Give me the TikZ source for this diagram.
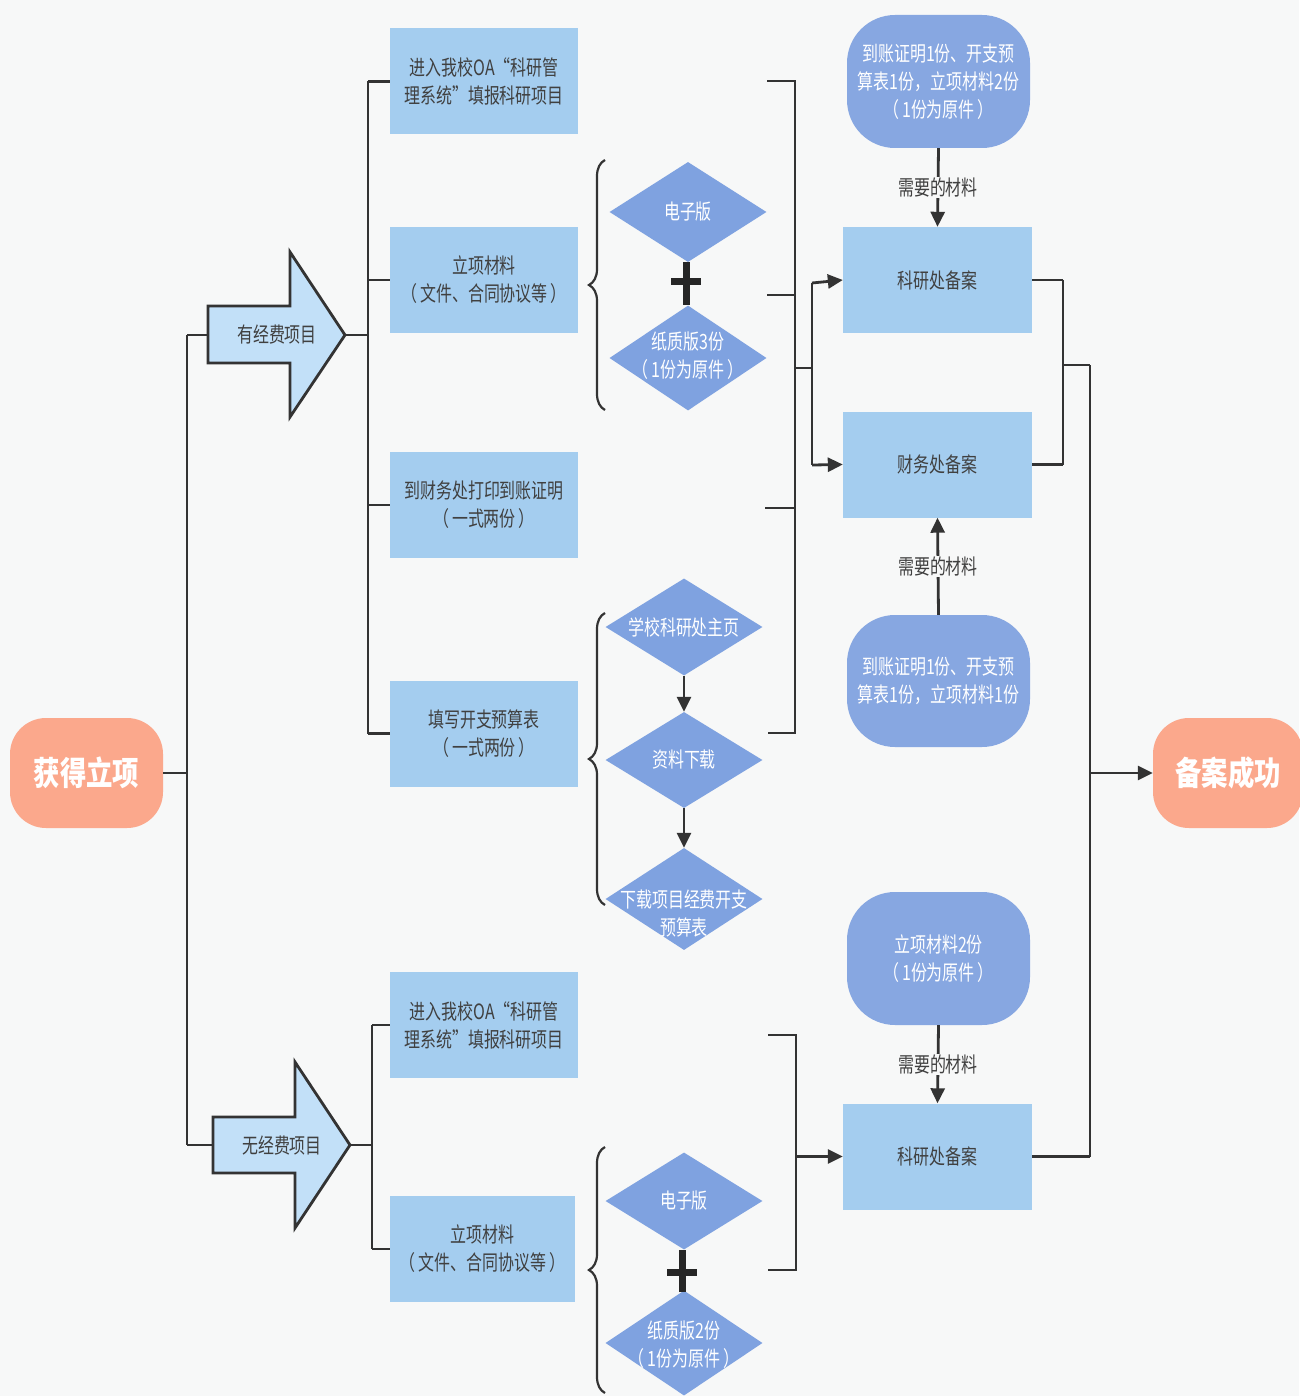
\documentclass[tikz,border=0pt]{standalone}
\usepackage{fontspec}
\newfontfamily\cjk[FakeStretch=0.76]{Noto Sans CJK SC}
\newfontfamily\cjkbig[FakeStretch=0.8]{Noto Sans CJK SC}
\usetikzlibrary{arrows.meta,decorations.pathreplacing,shapes.geometric,calc}
\definecolor{bg}{HTML}{F7F8F8}
\definecolor{boxblue}{HTML}{A4CDEF}
\definecolor{diablue}{HTML}{7FA2E0}
\definecolor{stadblue}{HTML}{87A7E1}
\definecolor{salmon}{HTML}{FBA88C}
\definecolor{arrowfill}{HTML}{C2E0F8}
\definecolor{ln}{HTML}{333333}
\definecolor{txt}{HTML}{404040}
\newcommand{\lp}{（\hspace{3pt}}
\newcommand{\rp}{\hspace{3pt}）}
\begin{document}
\begin{tikzpicture}[x=1pt,y=-1pt,
  conn/.style={draw=ln,line width=2.8pt},
  arr/.style={conn,-{Triangle[length=15pt,width=14pt]}},
  box/.style={fill=boxblue,minimum width=188pt,minimum height=106pt,align=center,text=txt,inner sep=0pt,font=\cjk\fontsize{21}{28}\selectfont},
  dia/.style={diamond,fill=diablue,inner sep=0pt,minimum width=157pt},
  dtext/.style={align=center,text=white,inner sep=0pt,font=\cjk\fontsize{21}{28}\selectfont},
  stad/.style={fill=stadblue,rounded corners=48pt,minimum width=183pt,minimum height=133pt,align=center,text=white,inner sep=0pt,font=\cjk\fontsize{21}{28}\selectfont},
  term/.style={fill=salmon,rounded corners=36pt,minimum height=110pt,text=white,inner sep=0pt,font=\cjkbig\bfseries\fontsize{33}{36}\selectfont},
  bigarrow/.style={draw=ln,line width=2.8pt,fill=arrowfill,line join=miter},
  brc/.style={draw=ln,line width=2.2pt,decorate,decoration={brace,amplitude=16pt}},
  need/.style={fill=bg,text=txt,inner sep=1pt,font=\cjk\fontsize{21}{28}\selectfont},
  plus/.style={draw=black!85,line width=7pt}
]
\useasboundingbox (0,0) rectangle (1299,1396);
\fill[bg] (0,0) rectangle (1299,1396);

% terminals
\node[term,minimum width=153pt] (start) at (86.5,773) {获得立项};
\node[term,minimum width=150pt] (finish) at (1228,773) {备案成功};

% big arrows
\draw[bigarrow] (208,306) -- (290,306) -- (290,252) -- (345,335) -- (290,417) -- (290,363) -- (208,363) -- cycle;
\coordinate (a1l) at (208,335);
\coordinate (a1t) at (345,335);
\node[text=txt,font=\cjk\fontsize{21}{28}\selectfont] (a1) at (277,335) {有经费项目};
\draw[bigarrow] (213,1117) -- (295,1117) -- (295,1062) -- (350,1145) -- (295,1228) -- (295,1173) -- (213,1173) -- cycle;
\coordinate (a2l) at (213,1145);
\coordinate (a2t) at (350,1145);
\node[text=txt,font=\cjk\fontsize{21}{28}\selectfont] (a2) at (282,1146) {无经费项目};

% left boxes
\node[box] (b1) at (484,81.5) {进入我校OA“科研管\\理系统”填报科研项目};
\node[box] (b2) at (484,280) {立项材料\\\lp 文件、合同协议等\rp};
\node[box] (b3) at (484,505) {到财务处打印到账证明\\\lp 一式两份\rp};
\node[box] (b4) at (484,733.5) {填写开支预算表\\\lp 一式两份\rp};
\node[box] (b5) at (484,1025) {进入我校OA“科研管\\理系统”填报科研项目};
\node[box,minimum width=185pt] (b6) at (482.5,1249) {立项材料\\\lp 文件、合同协议等\rp};

% diamonds
\node[dia,minimum height=100pt] (d1) at (688,212) {};
\node[dtext] at (d1) {电子版};
\node[dia,minimum height=105pt] (d2) at (688,358) {};
\node[dtext] at (688,356) {纸质版3份\\\lp 1份为原件\rp};
\node[dia,minimum height=97pt] (d3) at (684,627) {};
\node[dtext] at (d3) {学校科研处主页};
\node[dia,minimum height=96pt] (d4) at (684,760) {};
\node[dtext] at (d4) {资料下载};
\node[dia,minimum height=102pt] (d5) at (684,899) {};
\node[dtext] at (684,914) {下载项目经费开支\\预算表};
\node[dia,minimum height=97pt] (d6) at (684,1201) {};
\node[dtext] at (d6) {电子版};
\node[dia,minimum height=105pt] (d7) at (684,1343) {};
\node[dtext] at (684,1345) {纸质版2份\\\lp 1份为原件\rp};

% plus signs
\draw[plus] (686,262) -- (686,305);
\draw[plus] (671,282) -- (701,282);
\draw[plus] (682,1250) -- (682,1292);
\draw[plus] (667,1272) -- (697,1272);

% braces
\draw[brc] (605,410) -- (605,160);
\draw[brc] (605,905) -- (605,613);
\draw[brc] (605,1393) -- (605,1147);

% right boxes and stadiums
\node[box,minimum width=189pt] (k1) at (937.5,280) {科研处备案};
\node[box,minimum width=189pt] (c1) at (937.5,464.5) {财务处备案};
\node[box,minimum width=189pt] (k2) at (937.5,1156.5) {科研处备案};
\node[stad] (s1) at (938.5,81.5) {到账证明1份、开支预\\算表1份，立项材料2份\\\lp 1份为原件\rp};
\node[stad,minimum height=132pt] (s2) at (938.5,681) {到账证明1份、开支预\\算表1份，立项材料1份};
\node[stad] (s3) at (938.5,958.5) {立项材料2份\\\lp 1份为原件\rp};

% left connectors
\coordinate (jL) at (187,773);
\draw[conn] (start.east) -- (jL);
\draw[conn] (187,335) -- (187,1145);
\draw[conn] (187,335) -- (a1l);
\draw[conn] (187,1145) -- (a2l);
\draw[conn] (a1t) -- (368,335);
\draw[conn] (368,81.5) -- (368,733.5);
\draw[conn] (368,81.5) -- (b1.west);
\draw[conn] (368,280) -- (b2.west);
\draw[conn] (368,505) -- (b3.west);
\draw[conn] (368,733.5) -- (b4.west);
\draw[conn] (a2t) -- (372,1145);
\draw[conn] (372,1025) -- (372,1249);
\draw[conn] (372,1025) -- (b5.west);
\draw[conn] (372,1249) -- (b6.west);

% diamond chain arrows
\draw[arr] (d3.south) -- (d4.north);
\draw[arr] (d4.south) -- (d5.north);

% right bracket (top group)
\coordinate (r1) at (767,81);
\coordinate (r2) at (767,295);
\coordinate (r3) at (765,508);
\coordinate (r4) at (768,733);
\draw[conn] (r1) -- (795,81) -- (795,733) -- (r4);
\draw[conn] (r2) -- (795,295);
\draw[conn] (r3) -- (795,508);
\draw[conn] (795,368) -- (812,368);
\draw[conn] (812,283) -- (812,465);
\draw[arr] (812,283) -- (k1.west);
\draw[arr] (812,465) -- (c1.west);

% right bracket (bottom group)
\coordinate (r5) at (768,1035);
\coordinate (r6) at (768,1270);
\draw[conn] (r5) -- (796,1035) -- (796,1270) -- (r6);
\draw[arr] (796,1156.5) -- (k2.west);

% materials
\draw[arr] (s1.south) -- node[need] {需要的材料} (k1.north);
\draw[arr] (s2.north) -- node[need] {需要的材料} (c1.south);
\draw[arr] (s3.south) -- node[need] {需要的材料} (k2.north);

% to finish
\draw[conn] (k1.east) -- (1063,280);
\draw[conn] (c1.east) -- (1063,464.5);
\draw[conn] (1063,280) -- (1063,464.5);
\draw[conn] (1063,365) -- (1090,365);
\draw[conn] (1090,365) -- (1090,1156.5);
\draw[conn] (k2.east) -- (1090,1156.5);
\draw[arr] (1090,773) -- (finish.west);
\end{tikzpicture}
\end{document}
